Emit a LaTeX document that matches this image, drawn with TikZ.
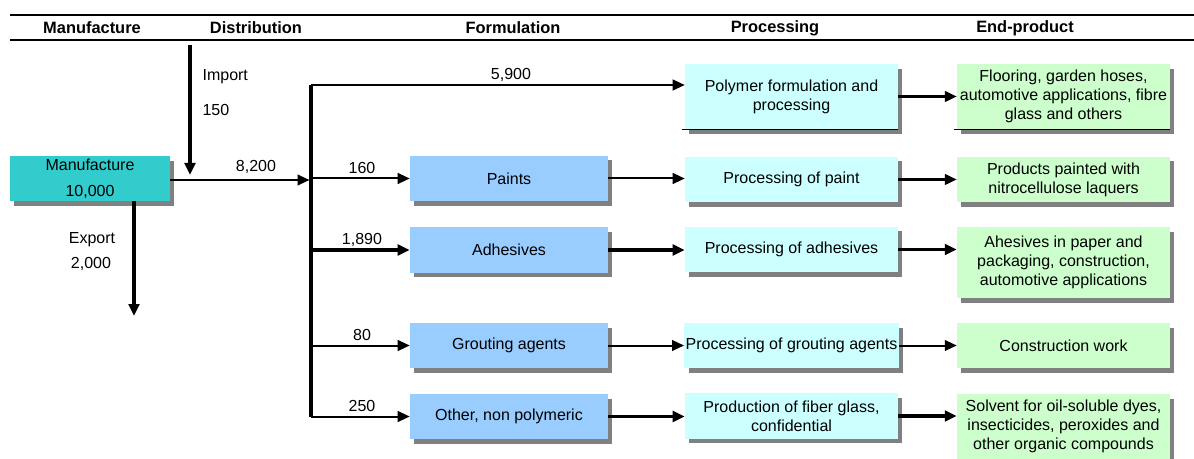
\documentclass[tikz,border=0pt]{standalone}
\usepackage{fontspec}
\setmainfont{Liberation Sans}
\usetikzlibrary{arrows.meta,shadows}

\definecolor{mfgteal}{HTML}{33CCCC}
\definecolor{formblue}{HTML}{99CCFF}
\definecolor{proccyan}{HTML}{CCFFFF}
\definecolor{endgreen}{HTML}{CCFFCC}
\definecolor{shadowgray}{HTML}{808080}

\tikzset{
	box/.style={inner sep=1pt, align=center,
		drop shadow={shadow xshift=3.2pt, shadow yshift=-3.5pt, fill=shadowgray, opacity=1}},
	mfgbox/.style={box, fill=mfgteal, minimum width=120pt, minimum height=33.75pt},
	formbox/.style={box, fill=formblue, minimum width=148.5pt, minimum height=34pt},
	procbox/.style={box, fill=proccyan, minimum width=159.75pt, minimum height=34pt},
	endbox/.style={box, fill=endgreen, minimum width=159.75pt, minimum height=34pt},
	thinflow/.style={line width=1.5pt, -{Triangle[length=9pt, width=8pt]}},
	thickflow/.style={line width=2.6pt, -{Triangle[length=9pt, width=8pt]}},
	qty/.style={inner sep=1pt},
	head/.style={inner sep=1pt, font=\fontsize{12.3}{14.4}\selectfont\bfseries}
}

\begin{document}
\begin{tikzpicture}[x=0.75pt, y=-0.75pt, font=\fontsize{12}{14.4}\selectfont]
	\useasboundingbox (0,0) rectangle (1194,459);

	% column heads
	\draw [line width=1.7pt] (10,15) -- (1194,15);
	\draw [line width=1.7pt] (10,40) -- (1194,40);
	\node [head] (hmanu) at (92,28) {Manufacture};
	\node [head] (hdist) at (256,28) {Distribution};
	\node [head] (hform) at (513,28) {Formulation};
	\node [head] (hproc) at (775,28) {Processing};
	\node [head] (hend) at (1025,28) {End-product};

	% boxes
	\node [mfgbox] (manu) at (90,178.5) {Manufacture\\[5.2pt]10,000};

	\node [formbox] (paints) at (509,178.5) {Paints};
	\node [formbox] (adhes) at (509,250) {Adhesives};
	\node [formbox] (grout) at (509,345.5) {Grouting agents};
	\node [formbox] (other) at (509,416.5) {Other, non polymeric};

	\node [procbox, minimum height=48.75pt] (polyproc) at (791.5,96.5) {Polymer formulation and\\processing};
	\node [procbox] (paintproc) at (791.5,179.5) {Processing of paint};
	\node [procbox] (adhproc) at (791.5,249.5) {Processing of adhesives};
	\node [procbox] (groutproc) at (791.5,345.5) {Processing of grouting agents};
	\node [procbox] (fiberproc) at (791.5,416) {Production of fiber glass,\\confidential};

	\node [endbox, minimum height=48.75pt] (flooring) at (1063.5,96.5) {Flooring, garden hoses,\\automotive applications, fibre\\glass and others};
	\node [endbox] (painted) at (1063.5,179.5) {Products painted with\\nitrocellulose laquers};
	\node [endbox, minimum height=53.25pt] (adhend) at (1063.5,262.5) {Ahesives in paper and\\packaging, construction,\\automotive applications};
	\node [endbox] (construct) at (1063.5,345.5) {Construction work};
	\node [endbox, minimum height=48.75pt] (solvent) at (1063.5,426.5) {Solvent for oil-soluble dyes,\\insecticides, peroxides and\\other organic compounds};

	\draw [line width=0.8pt] ([xshift=-2pt]polyproc.south west) -- (polyproc.south east);
	\draw [line width=0.8pt] ([xshift=-2pt]flooring.south west) -- (flooring.south east);

	% import and export
	\coordinate (imptop) at (190,45);
	\coordinate (impend) at (190,175);
	\draw [thickflow] (imptop) -- (impend);
	\node [qty, anchor=west] (implbl) at (201,77) {Import};
	\node [qty, anchor=west] (impqty) at (201,110) {150};

	\coordinate (exptop) at (134,201);
	\coordinate (expend) at (134,316);
	\draw [thickflow] (exptop) -- (expend);
	\node [qty] (explbl) at (92,240) {Export};
	\node [qty] (expqty) at (91,264) {2,000};

	% distribution bar
	\coordinate (bartop) at (311,85);
	\coordinate (barbot) at (311,417);
	\coordinate (split) at (309.5,180);
	\draw [line width=2.6pt] (bartop) -- (barbot);
	\draw [thinflow] (manu.east |- split) -- (split);
	\node [qty] (q8200) at (256,167) {8,200};

	\draw [thinflow] (bartop) -- (polyproc.west |- bartop);
	\node [qty] (q5900) at (511,75) {5,900};
	\draw [thinflow] (bartop |- paints.west) -- (paints.west);
	\node [qty] (q160) at (362,168) {160};
	\draw [thickflow] (bartop |- adhes.west) -- (adhes.west);
	\node [qty] (q1890) at (362,240) {1,890};
	\draw [thinflow] (bartop |- grout.west) -- (grout.west);
	\node [qty] (q80) at (362,335) {80};
	\draw [thinflow] (bartop |- other.west) -- (other.west);
	\node [qty] (q250) at (362,406) {250};

	% formulation to processing to end-product
	\draw [thinflow] (paints.east) -- (paints.east -| paintproc.west);
	\draw [thickflow] (adhes.east) -- (adhes.east -| adhproc.west);
	\draw [thinflow] (grout.east) -- (grout.east -| groutproc.west);
	\draw [thickflow] (other.east) -- (other.east -| fiberproc.west);

	\draw [thickflow, line width=1.9pt] (polyproc.east) -- (polyproc.east -| flooring.west);
	\draw [thinflow, line width=1.9pt] (paintproc.east) -- (paintproc.east -| painted.west);
	\draw [thickflow] (adhproc.east) -- (adhproc.east -| adhend.west);
	\draw [thinflow] (groutproc.east) -- (groutproc.east -| construct.west);
	\draw [thickflow] (fiberproc.east) -- (fiberproc.east -| solvent.west);
\end{tikzpicture}
\end{document}
